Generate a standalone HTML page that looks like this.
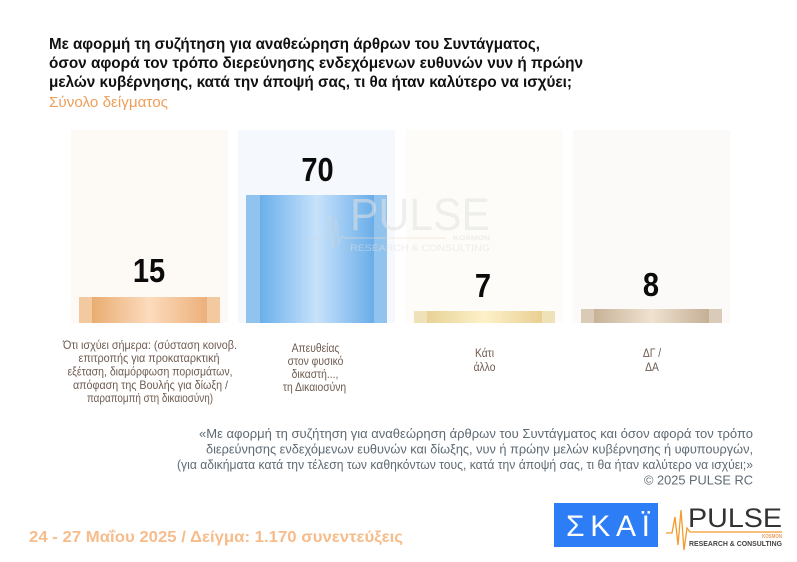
<!DOCTYPE html>
<html><head><meta charset="utf-8"><style>
html,body{margin:0;padding:0;background:#fff;}
svg{display:block;}
text{font-family:"Liberation Sans","Noto Sans CJK SC",sans-serif;}
</style></head><body>
<svg width="797" height="562" viewBox="0 0 797 562" xmlns="http://www.w3.org/2000/svg">
<defs>
<linearGradient id="g1" x1="0" x2="1" y1="0" y2="0"><stop offset="0" stop-color="#e9ad72"/><stop offset="0.5" stop-color="#fcdbbd"/><stop offset="1" stop-color="#ecb07a"/></linearGradient>
<linearGradient id="g2" x1="0" x2="1" y1="0" y2="0"><stop offset="0" stop-color="#6aafea"/><stop offset="0.5" stop-color="#c7e2fb"/><stop offset="1" stop-color="#69ade8"/></linearGradient>
<linearGradient id="g3" x1="0" x2="1" y1="0" y2="0"><stop offset="0" stop-color="#e8d296"/><stop offset="0.5" stop-color="#fdf1c9"/><stop offset="1" stop-color="#e9cf93"/></linearGradient>
<linearGradient id="g4" x1="0" x2="1" y1="0" y2="0"><stop offset="0" stop-color="#c7b298"/><stop offset="0.5" stop-color="#efe2d0"/><stop offset="1" stop-color="#c5af95"/></linearGradient>
</defs>

<!-- Title -->
<text x="49" y="49" font-size="16" font-weight="bold" fill="#111" textLength="491" lengthAdjust="spacingAndGlyphs">Με αφορμή τη συζήτηση για αναθεώρηση άρθρων του Συντάγματος,</text>
<text x="49" y="68" font-size="16" font-weight="bold" fill="#111" textLength="534" lengthAdjust="spacingAndGlyphs">όσον αφορά τον τρόπο διερεύνησης ενδεχόμενων ευθυνών νυν ή πρώην</text>
<text x="49" y="87" font-size="16" font-weight="bold" fill="#111" textLength="523" lengthAdjust="spacingAndGlyphs">μελών κυβέρνησης, κατά την άποψή σας, τι θα ήταν καλύτερο να ισχύει;</text>
<text x="49" y="107" font-size="14.5" fill="#ef9f5a" textLength="119" lengthAdjust="spacingAndGlyphs">Σύνολο δείγματος</text>

<!-- Panels -->
<rect x="71" y="130" width="157" height="193" fill="#fdf9f4"/>
<rect x="238" y="130" width="157" height="193" fill="#f5f9fd"/>
<rect x="406" y="130" width="157" height="193" fill="#fdfcf8"/>
<rect x="573" y="130" width="157" height="193" fill="#fbfaf8"/>

<!-- Bars -->
<rect x="79" y="297" width="141" height="26" fill="#f3c99f"/>
<rect x="92" y="297" width="115" height="26" fill="url(#g1)"/>
<rect x="246" y="195" width="141" height="128" fill="#91c3ef"/>
<rect x="260" y="195" width="114" height="128" fill="url(#g2)"/>
<rect x="414" y="311" width="141" height="12" fill="#efe2b9"/>
<rect x="427" y="311" width="115" height="12" fill="url(#g3)"/>
<rect x="581" y="309" width="141" height="14" fill="#dacbb8"/>
<rect x="594" y="309" width="115" height="14" fill="url(#g4)"/>

<!-- Watermark -->
<g opacity="0.55">
<polyline points="312,238 326,238 330,214 333,250 336,218 339,244 342,236 345,238" fill="none" stroke="#d5d5d5" stroke-width="1"/>
<line x1="345" y1="238" x2="446" y2="238" stroke="#f4dcc6" stroke-width="1"/>
<text x="350" y="230" font-size="45" fill="#e3e3e3" textLength="140" lengthAdjust="spacingAndGlyphs">PULSE</text>
<text x="453" y="240" font-size="6" font-weight="bold" fill="#e2e2e2" textLength="37" lengthAdjust="spacingAndGlyphs">KOSMON</text>
<text x="350" y="251" font-size="9" fill="#e0e0e0" textLength="140" lengthAdjust="spacingAndGlyphs">RESEARCH &amp; CONSULTING</text>
</g>

<!-- Values -->
<g font-size="33" font-weight="bold" fill="#0b0b0b" text-anchor="middle">
<text transform="translate(149,282) scale(0.88,1)">15</text>
<text transform="translate(317.5,181) scale(0.88,1)">70</text>
<text transform="translate(483,297) scale(0.88,1)">7</text>
<text transform="translate(651,296) scale(0.88,1)">8</text>
</g>

<!-- Category labels -->
<g font-size="12" fill="#6e5b50" text-anchor="middle">
<text x="150" y="349" textLength="174" lengthAdjust="spacingAndGlyphs">Ότι ισχύει σήμερα: (σύσταση κοινοβ.</text>
<text x="149" y="362" textLength="141" lengthAdjust="spacingAndGlyphs">επιτροπής για προκαταρκτική</text>
<text x="150" y="375.5" textLength="165" lengthAdjust="spacingAndGlyphs">εξέταση, διαμόρφωση πορισμάτων,</text>
<text x="150.5" y="389" textLength="155" lengthAdjust="spacingAndGlyphs">απόφαση της Βουλής για δίωξη /</text>
<text x="150" y="402" textLength="126" lengthAdjust="spacingAndGlyphs">παραπομπή στη δικαιοσύνη)</text>
<text transform="translate(315.5,352) scale(0.86,1)">Απευθείας</text>
<text transform="translate(315.5,365) scale(0.86,1)">στον φυσικό</text>
<text transform="translate(315,378) scale(0.86,1)">δικαστή...,</text>
<text transform="translate(314.5,391) scale(0.86,1)">τη Δικαιοσύνη</text>
<text transform="translate(484.5,357) scale(0.86,1)">Κάτι</text>
<text transform="translate(484.5,371) scale(0.86,1)">άλλο</text>
<text transform="translate(652,357) scale(0.86,1)">ΔΓ /</text>
<text transform="translate(652,371) scale(0.86,1)">ΔΑ</text>
</g>

<!-- Quote -->
<g font-size="13" fill="#5e6a73" text-anchor="end">
<text x="753" y="438" textLength="554" lengthAdjust="spacingAndGlyphs">«Με αφορμή τη συζήτηση για αναθεώρηση άρθρων του Συντάγματος και όσον αφορά τον τρόπο</text>
<text x="753" y="453.5" textLength="547" lengthAdjust="spacingAndGlyphs">διερεύνησης ενδεχόμενων ευθυνών και δίωξης, νυν ή πρώην μελών κυβέρνησης ή υφυπουργών,</text>
<text x="753" y="469" textLength="576" lengthAdjust="spacingAndGlyphs">(για αδικήματα κατά την τέλεση των καθηκόντων τους, κατά την άποψή σας, τι θα ήταν καλύτερο να ισχύει;»</text>
<text x="753" y="484.5" textLength="109" lengthAdjust="spacingAndGlyphs">©  2025  PULSE RC</text>
</g>

<!-- Footer -->
<text x="29" y="542" font-size="16" font-weight="bold" fill="#f7bc8b" textLength="374" lengthAdjust="spacingAndGlyphs">24 - 27 Μαΐου 2025  /  Δείγμα:  1.170 συνεντεύξεις</text>

<!-- SKAI logo -->
<rect x="554" y="503" width="104" height="44" fill="#2d7df6"/>
<text x="566" y="536" font-size="30" fill="#fff" textLength="84" lengthAdjust="spacing">ΣΚΑΪ</text>

<!-- PULSE logo -->
<polyline points="666,533 672,533 675,517 678,545 681,510 684,550 687,528 690,532" fill="none" stroke="#f39a2a" stroke-width="1.3"/>
<line x1="690" y1="532" x2="782" y2="532" stroke="#f39a2a" stroke-width="1.3"/>
<text x="688" y="527" font-size="27" fill="#333" textLength="94" lengthAdjust="spacingAndGlyphs">PULSE</text>
<text x="762" y="538" font-size="5" font-weight="bold" fill="#e9a060" textLength="20" lengthAdjust="spacingAndGlyphs">KOSMON</text>
<text x="689" y="546" font-size="7" font-weight="bold" fill="#444" textLength="93" lengthAdjust="spacingAndGlyphs">RESEARCH &amp; CONSULTING</text>
</svg>
</body></html>
